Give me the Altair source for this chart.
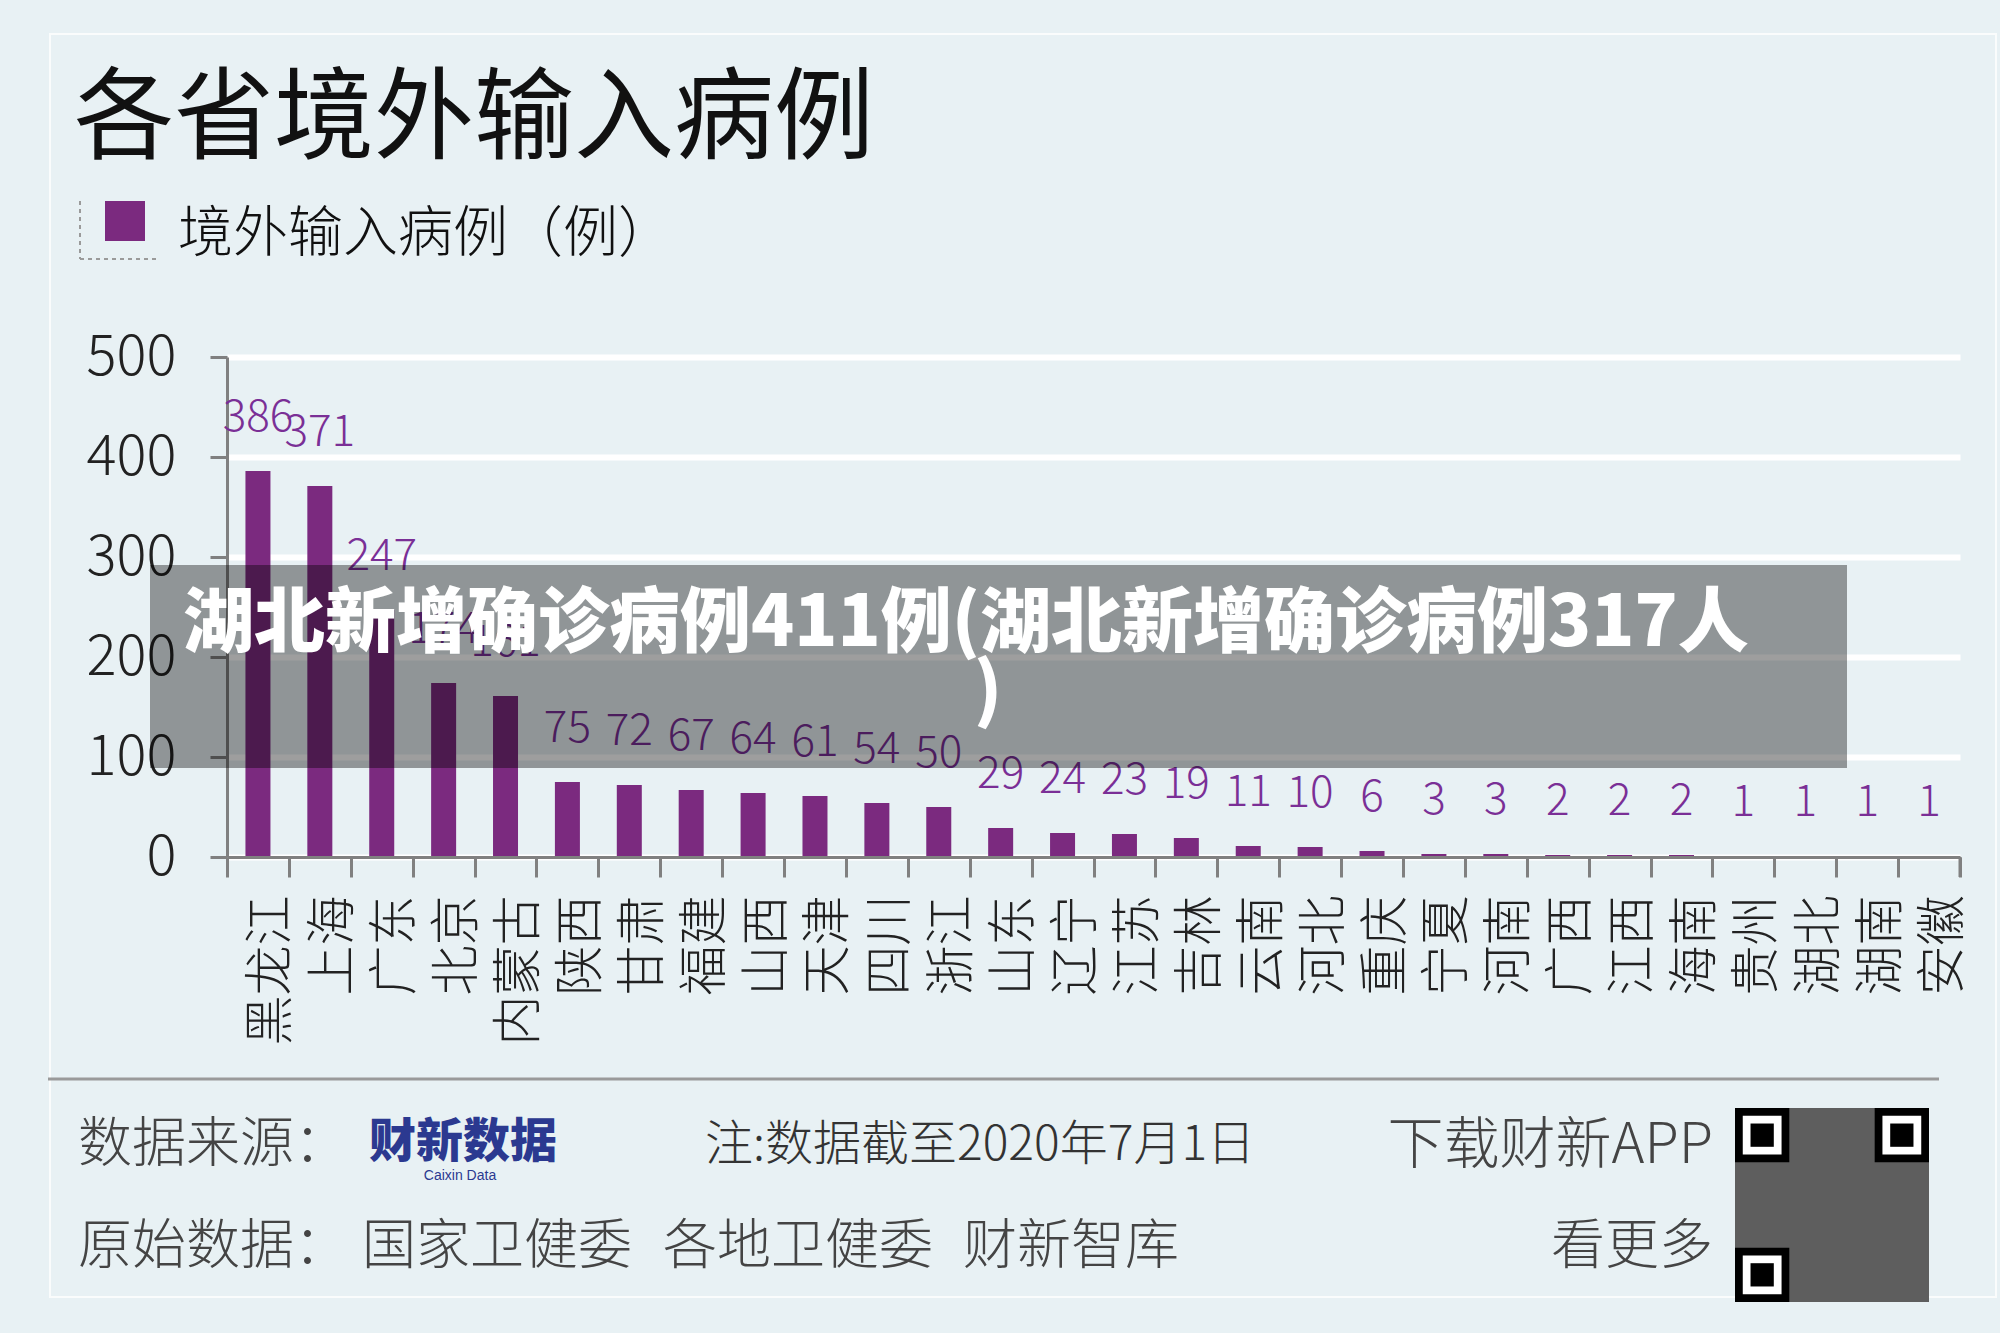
import altair as alt
import pandas as pd

# ---------------- data ----------------
provinces = ["黑龙江", "上海", "广东", "北京", "内蒙古", "陕西", "甘肃", "福建", "山西", "天津",
             "四川", "浙江", "山东", "辽宁", "江苏", "吉林", "云南", "河北", "重庆", "宁夏",
             "河南", "广西", "江西", "海南", "贵州", "湖北", "湖南", "安徽"]
cases = [386, 371, 247, 174, 161, 75, 72, 67, 64, 61, 54, 50, 29, 24, 23, 19, 11, 10, 6, 3,
         3, 2, 2, 2, 1, 1, 1, 1]
y_ticks = [0, 100, 200, 300, 400, 500]

title_text = "各省境外输入病例"
legend_text = "境外输入病例（例）"
banner_line1 = "湖北新增确诊病例411例(湖北新增确诊病例317人"
banner_line2 = ")"
source_label = "数据来源："
logo_text = "财新数据"
logo_sub = "Caixin Data"
note_text = "注:数据截至2020年7月1日"
app_text = "下载财新APP"
more_text = "看更多"
raw_label = "原始数据："
raw_sources = ["国家卫健委", "各地卫健委", "财新智库"]

df = pd.DataFrame({"province": provinces, "cases": cases})
one = pd.DataFrame({"k": [0]})

# ---------------- layout ----------------
W, H = 1733, 500
LEFT, TOP = 227, 357
RIGHT = 2000 - LEFT - W
BOTTOM = 1333 - TOP - H

FONT = "Noto Sans CJK SC"
PURPLE = "#7b2a7f"
LABEL_PURPLE = "#7a2f96"
BG = "#e8f1f4"
AXIS_GRAY = "#808080"


def rx(x):  # full-canvas x -> plot-relative
    return x - LEFT


def ry(y):
    return y - TOP


def txt(s, x, y, size, color="#222222", weight=400, align="left", baseline="middle", font=FONT):
    return alt.Chart(one).mark_text(
        text=s, fontSize=size, color=color, fontWeight=weight, align=align,
        baseline=baseline, font=font
    ).encode(x=alt.value(rx(x)), y=alt.value(ry(y)))


def rect(x1, y1, x2, y2, color, opacity=1.0, stroke=None, strokeWidth=0, filled=True):
    kw = dict(opacity=opacity)
    if filled:
        kw["color"] = color
    else:
        kw["fillOpacity"] = 0
        kw["stroke"] = stroke
        kw["strokeWidth"] = strokeWidth
    return alt.Chart(one).mark_rect(**kw).encode(
        x=alt.value(rx(x1)), x2=alt.value(rx(x2)), y=alt.value(ry(y1)), y2=alt.value(ry(y2)))


def hrule(x1, x2, y, color, width, dash=None):
    kw = dict(color=color, strokeWidth=width)
    if dash:
        kw["strokeDash"] = dash
    return alt.Chart(one).mark_rule(**kw).encode(
        x=alt.value(rx(x1)), x2=alt.value(rx(x2)), y=alt.value(ry(y)))


def vrule(x, y1, y2, color, width, dash=None):
    kw = dict(color=color, strokeWidth=width)
    if dash:
        kw["strokeDash"] = dash
    return alt.Chart(one).mark_rule(**kw).encode(
        x=alt.value(rx(x)), y=alt.value(ry(y1)), y2=alt.value(ry(y2)))


# ---------------- main chart ----------------
x_enc = alt.X(
    "province:N", sort=None,
    scale=alt.Scale(paddingInner=0, paddingOuter=0),
    axis=alt.Axis(
        title=None, labelAngle=270, labelFont=FONT, labelFontSize=50, labelFontWeight=300,
        labelColor="#222222", labelPadding=18, labelOffset=14, tickBand="extent", tickSize=20,
        tickWidth=3, tickColor=AXIS_GRAY, domainColor=AXIS_GRAY, domainWidth=3, grid=False,
        zindex=1, labelOverlap=False,
    ),
)
y_enc = alt.Y(
    "cases:Q",
    scale=alt.Scale(domain=[0, 500], nice=False, zero=True),
    axis=alt.Axis(
        title=None, values=y_ticks, labelFont=FONT, labelFontSize=56, labelFontWeight=300,
        labelColor="#222222", labelPadding=34, tickSize=17, tickWidth=3, tickColor=AXIS_GRAY,
        domainColor=AXIS_GRAY, domainWidth=3, grid=True, gridColor="#ffffff", gridWidth=6,
    ),
)

base = alt.Chart(df)
bars = base.mark_bar(size=25, color=PURPLE).encode(x=x_enc, y=y_enc)
labels = base.mark_text(
    dy=-40, baseline="alphabetic", fontSize=44, font=FONT, fontWeight=300, color=LABEL_PURPLE
).encode(x=alt.X("province:N", sort=None), y=alt.Y("cases:Q"), text=alt.Text("cases:Q"))

# ---------------- decorations ----------------
card = rect(50, 34, 1996, 1297, None, opacity=0.8, stroke="#ffffff", strokeWidth=2, filled=False)

title = txt(title_text, 74, 121, 100, color="#111111", weight=400)
legend_sq = rect(105, 201, 145, 241, PURPLE)
legend_v = vrule(80, 201, 259, "#9a9a9a", 2, dash=[4, 4])
legend_h = hrule(80, 158, 259, "#9a9a9a", 2, dash=[4, 4])
legend_t = txt(legend_text, 178, 234, 55, color="#111111", weight=300)

end_tick = vrule(LEFT + W, TOP + H, TOP + H + 20, AXIS_GRAY, 3)

banner = rect(150, 565, 1847, 768, "#000000", opacity=0.38)
banner_t1 = txt(banner_line1, 183, 625, 71, color="#ffffff", weight=900)
banner_t2 = txt(banner_line2, 988, 694, 71, color="#ffffff", weight=900, align="center")

footer_line = hrule(48, 1939, 1079, "#9a9a9a", 3)
src = txt(source_label, 78, 1146, 54, color="#444444", weight=300)
logo = txt(logo_text, 463, 1143, 47, color="#2b3990", weight=900, align="center")
logo2 = txt(logo_sub, 460, 1176, 14, color="#2b3990", weight=400, align="center",
            font="Liberation Sans")
note = txt(note_text, 705, 1146, 48, color="#333333", weight=300)
app = txt(app_text, 1713, 1146, 56, color="#444444", weight=300, align="right")
raw = txt(raw_label, 78, 1248, 54, color="#444444", weight=300)
raw_items = [txt(s, xx, 1248, 54, color="#444444", weight=300)
             for s, xx in zip(raw_sources, [362, 663, 963])]
more = txt(more_text, 1713, 1248, 54, color="#444444", weight=300, align="right")

# QR-code placeholder: tone block plus the three finder patterns
qx, qy, qs = 1735, 1108, 194
m = qs / 25.0
qr = [rect(qx, qy, qx + qs, qy + qs, "#5e5e5e")]
for fx, fy in [(qx, qy), (qx + qs - 7 * m, qy), (qx, qy + qs - 7 * m)]:
    qr.append(rect(fx, fy, fx + 7 * m, fy + 7 * m, "#000000"))
    qr.append(rect(fx + m, fy + m, fx + 6 * m, fy + 6 * m, "#ffffff"))
    qr.append(rect(fx + 2 * m, fy + 2 * m, fx + 5 * m, fy + 5 * m, "#000000"))

layers = [card, bars, labels, end_tick, title, legend_sq, legend_v, legend_h, legend_t,
          banner, banner_t1, banner_t2, footer_line, src, logo, logo2, note, app, raw,
          *raw_items, more, *qr]

chart = alt.layer(*layers).properties(
    width=W, height=H,
    padding={"left": LEFT, "top": TOP, "right": RIGHT, "bottom": BOTTOM},
    autosize=alt.AutoSizeParams(type="none"),
    background=BG,
).configure_view(stroke=None)

chart.save("out.html", embed_options={"renderer": "svg", "actions": False})
